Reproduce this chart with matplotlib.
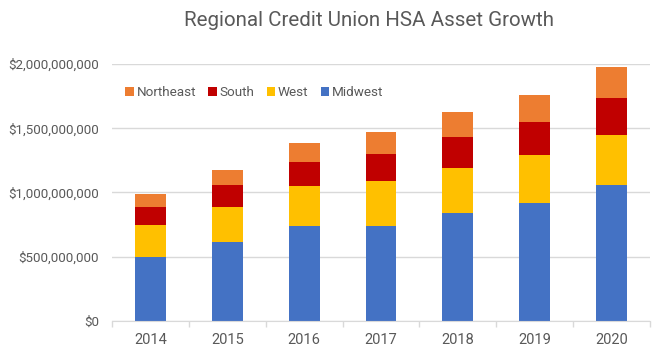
import matplotlib
matplotlib.use("Agg")
import matplotlib.pyplot as plt
from matplotlib.ticker import FuncFormatter
import numpy as np

years = ["2014", "2015", "2016", "2017", "2018", "2019", "2020"]
midwest = [500e6, 615e6, 739e6, 742e6, 840e6, 918e6, 1058e6]
west = [247e6, 272e6, 312e6, 347e6, 351e6, 374e6, 389e6]
south = [140e6, 171e6, 186e6, 211e6, 241e6, 257e6, 288e6]
northeast = [101e6, 117e6, 148e6, 171e6, 194e6, 210e6, 242e6]

series = [("Midwest", midwest, "#4472C4"),
          ("West", west, "#FFC000"),
          ("South", south, "#C00000"),
          ("Northeast", northeast, "#ED7D31")]

plt.rcParams['font.family'] = ['Roboto', 'DejaVu Sans']
txt = "#595959"

fig = plt.figure(figsize=(6.66, 3.57), dpi=100)
ax = fig.add_axes([112/666, 1-321/357, (650-112)/666, (321-64)/357])

x = np.arange(len(years))
bottom = np.zeros(len(years))
handles = {}
for name, vals, col in series:
    b = ax.bar(x, vals, 0.4, bottom=bottom, color=col, label=name, zorder=3)
    handles[name] = b
    bottom += np.array(vals)

ax.set_xlim(-0.5, len(years)-0.5)
ax.set_ylim(0, 2e9)
ax.set_yticks([0, 5e8, 1e9, 1.5e9, 2e9])
ax.yaxis.set_major_formatter(FuncFormatter(lambda v, p: "${:,.0f}".format(v)))
ax.set_xticks(x)
ax.set_xticklabels(years)
ax.set_xticks(np.arange(-0.5, len(years), 1), minor=True)
ax.grid(axis='y', color="#d9d9d9", linewidth=1, zorder=0)
for s in ['top', 'right', 'left']:
    ax.spines[s].set_visible(False)
ax.spines['bottom'].set_color("#d9d9d9")
ax.spines['bottom'].set_zorder(4)
ax.tick_params(axis='y', length=0, pad=9.5, labelsize=9.6, labelcolor=txt)
ax.tick_params(axis='x', which='major', length=0, pad=9, labelsize=10.5, labelcolor=txt)
ax.tick_params(axis='x', which='minor', length=4, color="#d9d9d9", width=1)

fig.text(369.5/666, 1-21/357, "Regional Credit Union HSA Asset Growth",
         ha='center', va='center', fontsize=14.8, color=txt)

order = ["Northeast", "South", "West", "Midwest"]
leg = fig.legend([handles[n] for n in order], order, ncol=4, frameon=False,
                 loc='center left', bbox_to_anchor=(125/666, 1-93/357),
                 handlelength=0.65, handleheight=0.65, handletextpad=0.2,
                 columnspacing=0.9, fontsize=9.7, labelcolor=txt,
                 borderaxespad=0, borderpad=0)

fig.savefig("out.png", dpi=100)
